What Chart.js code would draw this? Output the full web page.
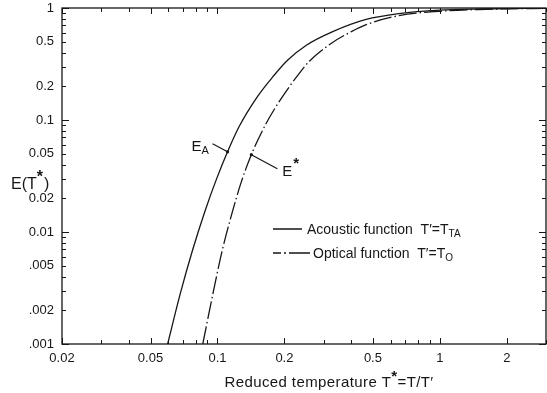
<!DOCTYPE html>
<html>
<head>
<meta charset="utf-8">
<script src="https://cdn.jsdelivr.net/npm/chart.js@4/dist/chart.umd.min.js"></script>
<style>
  html, body { margin: 0; padding: 0; background: #fff; }
  #chart { display: block; }
</style>
</head>
<body>
<canvas id="chart" width="547" height="393"></canvas>
<script>
// Reduced temperature T* and the two heat-capacity functions
const acousticT = [0.0597, 0.068, 0.0773, 0.088, 0.0989, 0.111, 0.125, 0.151, 0.178, 0.206, 0.251, 0.328, 0.466, 0.655, 1.0, 1.5, 3.0];
const acousticE = [0.001, 0.0028, 0.0069, 0.0155, 0.0295, 0.052, 0.087, 0.161, 0.245, 0.34, 0.465, 0.612, 0.79, 0.891, 0.957, 0.98, 0.997];

const opticalT = [0.0859, 0.095, 0.105, 0.116, 0.128, 0.142, 0.165, 0.192, 0.238, 0.259, 0.328, 0.4, 0.466, 0.655, 1.0, 1.5, 2.0, 3.0];
const opticalE = [0.001, 0.0027, 0.0068, 0.0145, 0.028, 0.049, 0.092, 0.152, 0.275, 0.335, 0.49, 0.615, 0.71, 0.855, 0.935, 0.97, 0.983, 0.993];

// Labelled ticks
const xLabelValues = [0.02, 0.05, 0.1, 0.2, 0.5, 1, 2];
const xLabels = ['0.02', '0.05', '0.1', '0.2', '0.5', '1', '2'];
const yLabelValues = [1, 0.5, 0.2, 0.1, 0.05, 0.02, 0.01, 0.005, 0.002, 0.001];
const yLabels = ['1', '0.5', '0.2', '0.1', '0.05', '0.02', '0.01', '.005', '.002', '.001'];

const INK = '#161616';
const FONT = '"Liberation Sans", Arial, sans-serif';

// every 1..9 multiple inside a range, for the minor ticks
function logSteps(min, max) {
    const out = [];
    for (let d = Math.floor(Math.log10(min)); d <= Math.ceil(Math.log10(max)); d++) {
        for (let m = 1; m <= 9; m++) {
            const v = +(m * Math.pow(10, d)).toPrecision(3);
            if (v >= min * 0.999 && v <= max * 1.001) out.push(v);
        }
    }
    return out;
}

const xSteps = logSteps(0.02, 3);
const ySteps = logSteps(0.001, 1);

function labelFor(values, labels, v) {
    const i = values.findIndex(a => Math.abs(a - v) / a < 1e-6);
    return i >= 0 ? labels[i] : '';
}

// frame, inward ticks, axis titles, legend and curve labels
const framePlugin = {
    id: 'frame',
    afterDraw(chart) {
        const c = chart.ctx;
        const a = chart.chartArea;
        const xs = chart.scales.x, ys = chart.scales.y;
        c.save();
        c.strokeStyle = INK;
        c.lineWidth = 1.3;
        c.strokeRect(a.left, a.top, a.right - a.left, a.bottom - a.top);

        c.lineWidth = 1;
        c.beginPath();
        xSteps.forEach(v => {
            const px = Math.round(xs.getPixelForValue(v)) + 0.5;
            const len = labelFor(xLabelValues, xLabels, v) ? 6 : 4;
            c.moveTo(px, a.bottom); c.lineTo(px, a.bottom - len);
            c.moveTo(px, a.top); c.lineTo(px, a.top + len);
        });
        ySteps.forEach(v => {
            const py = Math.round(ys.getPixelForValue(v)) + 0.5;
            const decade = Math.abs(Math.log10(v) - Math.round(Math.log10(v))) < 1e-6;
            const len = decade ? 7 : 4;
            c.moveTo(a.left, py); c.lineTo(a.left + len, py);
            c.moveTo(a.right, py); c.lineTo(a.right - len, py);
        });
        c.stroke();

        c.fillStyle = INK;
        c.textBaseline = 'alphabetic';

        // y title E(T*)
        c.font = '16px ' + FONT;
        c.textAlign = 'left';
        c.fillText('E(T', 11, 189);
        let w = c.measureText('E(T').width;
        c.font = 'bold 16px ' + FONT;
        c.fillText('*', 11 + w, 182);
        let w2 = c.measureText('*').width;
        c.font = '16px ' + FONT;
        c.fillText(')', 12 + w + w2, 189);

        // x title
        const xt1 = 'Reduced temperature T';
        const xt2 = '=T/T\u2032';
        c.letterSpacing = '0.4px';
        c.font = '15px ' + FONT;
        const w1 = c.measureText(xt1).width;
        c.font = 'bold 15px ' + FONT;
        const ws = c.measureText('*').width;
        c.font = '15px ' + FONT;
        const w3 = c.measureText(xt2).width;
        let x0 = 329 - (w1 + ws + w3) / 2;
        c.fillText(xt1, x0, 387);
        c.font = 'bold 15px ' + FONT;
        c.fillText('*', x0 + w1, 381);
        c.font = '15px ' + FONT;
        c.fillText(xt2, x0 + w1 + ws, 387);
        c.letterSpacing = '0px';

        // legend samples: solid, then dash-dot-dash
        c.lineWidth = 1.3;
        c.beginPath();
        c.moveTo(273, 229); c.lineTo(302, 229);
        c.moveTo(273, 253); c.lineTo(281, 253);
        c.moveTo(284, 253); c.lineTo(286, 253);
        c.moveTo(289, 253); c.lineTo(310, 253);
        c.stroke();

        function subText(main, sub, x, y, size, subSize) {
            c.font = size + 'px ' + FONT;
            c.fillText(main, x, y);
            const mw = c.measureText(main).width;
            c.font = subSize + 'px ' + FONT;
            c.fillText(sub, x + mw, y + 3);
        }
        subText('Acoustic function  T\u2032=T', 'TA', 307, 234, 14, 10);
        subText('Optical function  T\u2032=T', 'O', 313, 258, 14, 10);

        // curve labels with pointers onto the curves
        const tipA = { x: xs.getPixelForValue(0.111), y: ys.getPixelForValue(0.052) };
        const tipO = { x: xs.getPixelForValue(0.142), y: ys.getPixelForValue(0.049) };
        c.lineWidth = 1.2;
        c.beginPath();
        c.moveTo(tipA.x - 15, tipA.y - 8); c.lineTo(tipA.x, tipA.y);
        c.moveTo(tipO.x + 26, tipO.y + 14); c.lineTo(tipO.x, tipO.y);
        c.stroke();
        [tipA, tipO].forEach(t => {
            c.beginPath();
            c.arc(t.x, t.y, 1.6, 0, Math.PI * 2);
            c.fill();
        });
        subText('E', 'A', tipA.x - 36, tipA.y - 1, 15, 11);
        c.font = '15px ' + FONT;
        c.fillText('E', tipO.x + 31, tipO.y + 21);
        c.font = 'bold 15px ' + FONT;
        c.fillText('*', tipO.x + 42, tipO.y + 13);
        c.restore();
    }
};

const points = (ts, es) => ts.map((t, i) => ({ x: t, y: es[i] }));

new Chart(document.getElementById('chart'), {
    type: 'line',
    data: {
        datasets: [
            {
                label: 'Acoustic function',
                data: points(acousticT, acousticE),
                borderColor: INK,
                borderWidth: 1.3,
                pointRadius: 0,
                cubicInterpolationMode: 'monotone',
                fill: false
            },
            {
                label: 'Optical function',
                data: points(opticalT, opticalE),
                borderColor: INK,
                borderWidth: 1.3,
                borderDash: [18, 3, 1.5, 3],
                pointRadius: 0,
                cubicInterpolationMode: 'monotone',
                fill: false
            }
        ]
    },
    options: {
        responsive: false,
        animation: false,
        events: [],
        layout: { padding: { top: 8, right: 1, left: 0, bottom: 0 } },
        plugins: {
            legend: { display: false },
            tooltip: { enabled: false }
        },
        scales: {
            x: {
                type: 'logarithmic',
                min: 0.02,
                max: 3,
                grid: { display: false, drawTicks: false },
                border: { display: false },
                afterBuildTicks: s => { s.ticks = xSteps.map(v => ({ value: v })); },
                afterFit: s => { s.height = 49; s.paddingLeft = 0; s.paddingRight = 0; },
                ticks: {
                    autoSkip: false,
                    maxRotation: 0,
                    padding: 7,
                    color: INK,
                    font: { family: FONT, size: 13 },
                    callback: v => labelFor(xLabelValues, xLabels, v)
                }
            },
            y: {
                type: 'logarithmic',
                min: 0.001,
                max: 1,
                grid: { display: false, drawTicks: false },
                border: { display: false },
                afterBuildTicks: s => { s.ticks = ySteps.map(v => ({ value: v })); },
                afterFit: s => { s.width = 62; s.paddingTop = 0; s.paddingBottom = 0; },
                ticks: {
                    autoSkip: false,
                    padding: 8,
                    color: INK,
                    font: { family: FONT, size: 13 },
                    callback: v => labelFor(yLabelValues, yLabels, v)
                }
            }
        }
    },
    plugins: [framePlugin]
});
</script>
</body>
</html>
